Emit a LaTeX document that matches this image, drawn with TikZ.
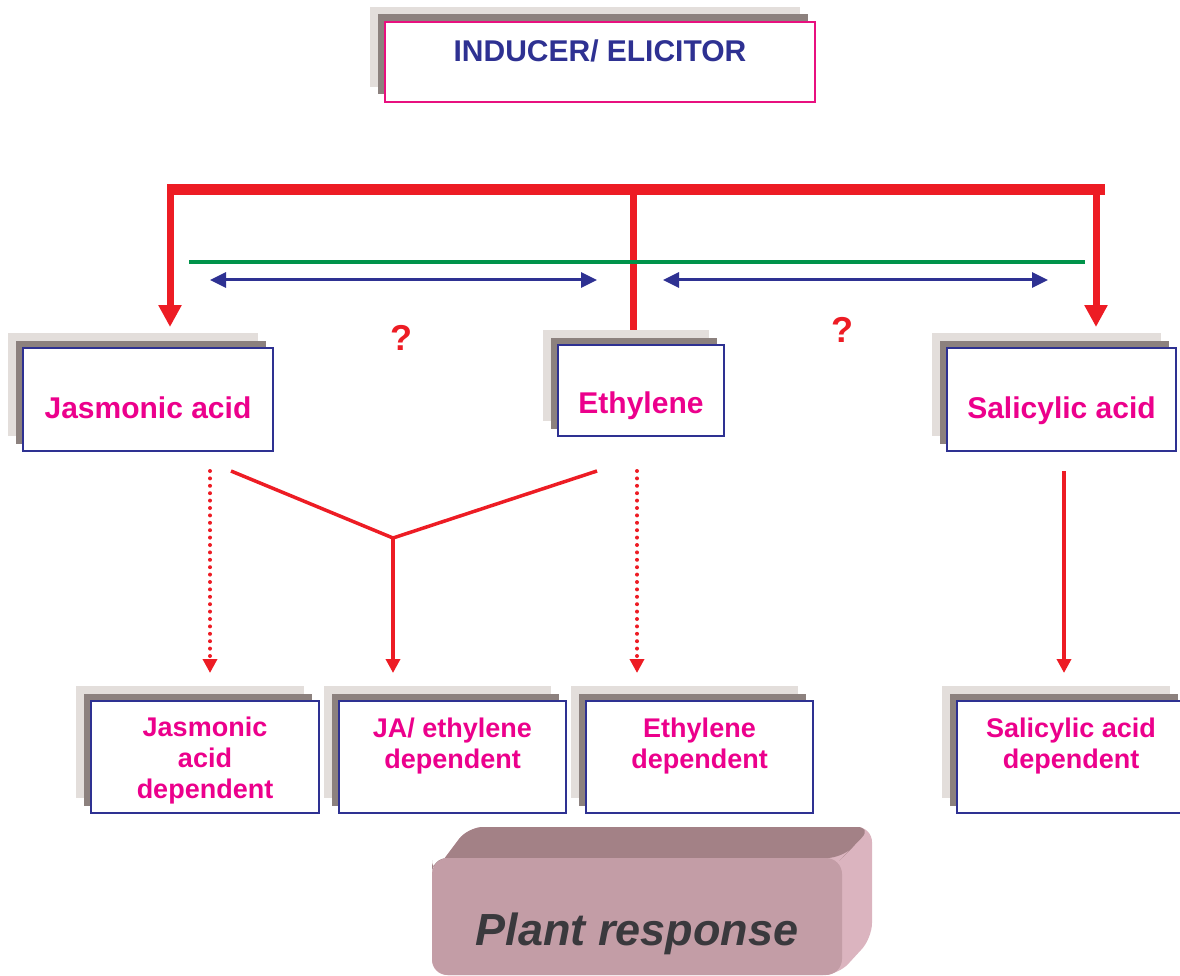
\documentclass[tikz,border=0pt]{standalone}
\usepackage{fontspec}
\setmainfont{Liberation Sans}
\usetikzlibrary{arrows.meta,backgrounds}
\definecolor{pinktxt}{HTML}{EC008C}
\definecolor{navy}{HTML}{2E3192}
\definecolor{topborder}{HTML}{E8107F}
\definecolor{redl}{HTML}{ED1C24}
\definecolor{greenl}{HTML}{00934A}
\definecolor{shlight}{HTML}{E3DEDB}
\definecolor{shdark}{HTML}{8C817E}
\definecolor{prfront}{HTML}{C39DA6}
\definecolor{prtop}{HTML}{A38186}
\definecolor{prside}{HTML}{DBB4BF}
\definecolor{prtext}{HTML}{3A393D}
\newcommand{\bxt}[4]{\parbox[c][#2][t]{#1}{\centering\rule{0pt}{#3}#4}}
\begin{document}
\begin{tikzpicture}[x=1pt,y=-1pt,
  box/.style={draw=navy, line width=1.8pt, fill=white, inner sep=0pt, outer sep=0pt,
    text=pinktxt, font=\bfseries\fontsize{30}{36}\selectfont},
  boxtwo/.style={box, font=\bfseries\fontsize{27}{31}\selectfont},
  redthick/.style={draw=redl, line width=11pt},
  redv/.style={draw=redl, line width=7pt},
  bigtip/.style={-{Triangle[length=22pt,width=22pt]}},
  redm/.style={draw=redl, line width=3.5pt},
  smalltip/.style={-{Triangle[length=14pt,width=14pt]}},
  reddot/.style={draw=redl, line width=4pt, line cap=round, dash pattern=on 0pt off 7.4pt},
  bluearr/.style={draw=navy, line width=3pt, {Triangle[length=16pt,width=15pt]}-{Triangle[length=16pt,width=15pt]}},
  qm/.style={text=redl, font=\bfseries\fontsize{36}{40}\selectfont, inner sep=0pt}
]
\useasboundingbox (0,0) rectangle (1180,976);
\clip (0,0) rectangle (1180,976);

% boxes
\node[box, draw=topborder, text=navy] (top) at (600,62) {\bxt{430pt}{80pt}{40pt}{INDUCER/ ELICITOR}};
\node[box] (ja) at (148,399.5) {\bxt{250pt}{103pt}{70pt}{Jasmonic acid}};
\node[box] (eth) at (641,390.5) {\bxt{166pt}{91pt}{68pt}{Ethylene}};
\node[box] (sa) at (1061.5,399.5) {\bxt{229pt}{103pt}{70pt}{Salicylic acid}};
\node[boxtwo] (jad) at (205,757) {\bxt{228pt}{112pt}{35pt}{Jasmonic\\acid\\dependent}};
\node[boxtwo] (jaed) at (452.5,757) {\bxt{227pt}{112pt}{36pt}{JA/ ethylene\\dependent}};
\node[boxtwo] (ethd) at (699.5,757) {\bxt{227pt}{112pt}{36pt}{Ethylene\\dependent}};
\node[boxtwo] (sad) at (1071,757) {\bxt{228pt}{112pt}{36pt}{Salicylic acid\\dependent}};

\begin{scope}[on background layer]
\foreach \n in {top,ja,eth,sa,jad,jaed,ethd,sad}{
  \fill[shlight] ([shift={(-15,-15)}]\n.south west) rectangle ([shift={(-15,-15)}]\n.north east);
  \fill[shdark] ([shift={(-7.5,-7.5)}]\n.south west) rectangle ([shift={(-7.5,-7.5)}]\n.north east);
}
\end{scope}

% red bracket
\coordinate (hl) at (167,190);
\coordinate (hr) at (1105,190);
\coordinate (vl) at (170,190);
\coordinate (vm) at (633.5,190);
\coordinate (vr) at (1096,190);
\draw[redv, bigtip, shorten >=21pt] (vl) -- (vl |- ja.north);
\draw[redv, bigtip, shorten >=21pt] (vr) -- (vr |- sa.north);
\draw[redv, shorten >=15pt] (vm) -- (vm |- eth.north);
\draw[redthick] (hl) -- (hr);

% green line and blue arrows
\coordinate (g1) at (189,262);
\coordinate (g2) at (1085,262);
\draw[draw=greenl, line width=3.5pt] (g1) -- (g2);
\coordinate (b1a) at (210,280);
\coordinate (b1b) at (597,280);
\coordinate (b2a) at (663,280);
\coordinate (b2b) at (1048,280);
\draw[bluearr] (b1a) -- (b1b);
\draw[bluearr] (b2a) -- (b2b);

\node[qm] (q1) at (401,338) {?};
\node[qm] (q2) at (842,330) {?};

% Y connector
\coordinate (ya) at (231,471);
\coordinate (yb) at (597,471);
\coordinate (yj) at (393,538);
\draw[redm, line join=miter] (ya) -- (yj) -- (yb);
\draw[redm, smalltip, shorten >=28pt] (yj) -- (yj |- jaed.north);

% dotted and solid arrows
\coordinate (d1) at (210,471);
\coordinate (d2) at (637,471);
\coordinate (s1) at (1064,471);
\draw[reddot, smalltip, shorten >=28pt] (d1) -- (d1 |- jad.north);
\draw[reddot, smalltip, shorten >=28pt] (d2) -- (d2 |- ethd.north);
\draw[redm, smalltip, shorten >=28pt] (s1) -- (s1 |- sad.north);

% plant response 3D box
\fill[prside, rounded corners=15pt] (432,875) -- (468,827) -- (872,827) -- (872,938) -- (838,975) -- (432,975) -- cycle;
\fill[prtop, rounded corners=15pt] (432,875) -- (468,827) -- (872,827) -- (850,850) -- (842,858) -- (432,858) -- cycle;
\node[fill=prfront, rounded corners=16pt, inner sep=0pt, outer sep=0pt,
  minimum width=410pt, text height=87pt, text depth=30pt,
  text=prtext, font=\bfseries\itshape\fontsize{45}{50}\selectfont] (pr) at (637,916.5) {Plant response};
\end{tikzpicture}
\end{document}
